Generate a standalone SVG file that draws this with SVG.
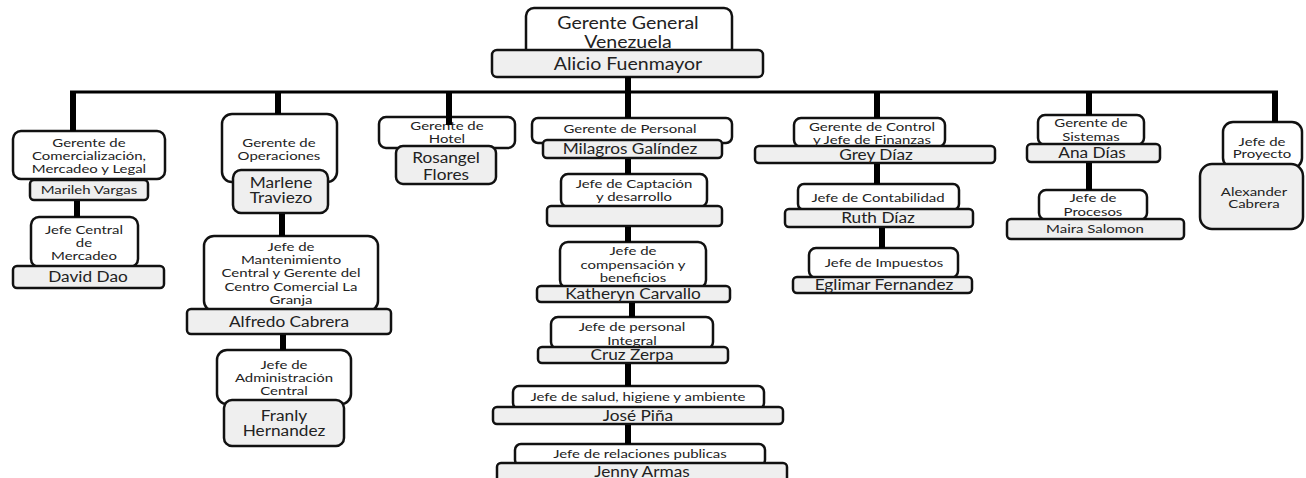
<svg xmlns="http://www.w3.org/2000/svg" width="1306" height="478" viewBox="0 0 1306 478">
<style>
.t{fill:#fff;stroke:#111;stroke-width:2.5}
.n{fill:#efefef;stroke:#111;stroke-width:2.5}
text{font-family:Lato,"Liberation Sans",sans-serif;fill:#222;text-anchor:middle;transform-box:fill-box;transform-origin:50% 50%}
.s{font-size:11.5px;transform:scaleX(1.3)}
.m{font-size:15px;transform:scaleX(1.15)}
.l{font-size:17px;transform:scaleX(1.15)}
.bus{stroke:#000;stroke-width:3;fill:none}
.drop{stroke:#000;stroke-width:6;fill:none}
</style>
<rect width="1306" height="478" fill="#fff"/>
<g id="gerente-general">
<rect class="t" x="526" y="8" width="206" height="50" rx="8"/>
<rect class="n" x="492" y="50" width="271" height="27" rx="5"/>
<text class="l" x="628" y="29">Gerente General</text>
<text class="l" x="628" y="48">Venezuela</text>
<text class="l" x="628" y="70">Alicio Fuenmayor</text>
</g>
<g id="comercializacion">
<rect class="t" x="13" y="131" width="152" height="48" rx="8"/>
<rect class="n" x="30" y="180" width="118" height="20" rx="4"/>
<text class="s" x="89" y="147">Gerente de</text>
<text class="s" x="89" y="160">Comercialización,</text>
<text class="s" x="89" y="173">Mercadeo y Legal</text>
<text class="s" x="89" y="194">Marileh Vargas</text>
</g>
<g id="jefe-mercadeo">
<rect class="t" x="31" y="217" width="107" height="50" rx="8"/>
<rect class="n" x="13" y="266" width="151" height="22" rx="4"/>
<text class="s" x="84" y="234">Jefe Central</text>
<text class="s" x="84" y="247">de</text>
<text class="s" x="84" y="260">Mercadeo</text>
<text class="m" x="88" y="282">David Dao</text>
</g>
<g id="operaciones">
<rect class="t" x="222" y="114" width="115" height="68" rx="10"/>
<rect class="n" x="233" y="170" width="95" height="43" rx="8"/>
<text class="s" x="279" y="147">Gerente de</text>
<text class="s" x="279" y="160">Operaciones</text>
<text class="m" x="281" y="188">Marlene</text>
<text class="m" x="281" y="203">Traviezo</text>
</g>
<g id="mantenimiento">
<rect class="t" x="204" y="236" width="174" height="75" rx="10"/>
<rect class="n" x="187" y="309" width="204" height="25" rx="4"/>
<text class="s" x="291" y="251">Jefe de</text>
<text class="s" x="291" y="264">Mantenimiento</text>
<text class="s" x="291" y="277">Central y Gerente del</text>
<text class="s" x="291" y="291">Centro Comercial La</text>
<text class="s" x="291" y="304">Granja</text>
<text class="m" x="289" y="327">Alfredo Cabrera</text>
</g>
<g id="administracion">
<rect class="t" x="217" y="350" width="134" height="54" rx="10"/>
<rect class="n" x="224" y="400" width="120" height="46" rx="8"/>
<text class="s" x="284" y="369">Jefe de</text>
<text class="s" x="284" y="382">Administración</text>
<text class="s" x="284" y="395">Central</text>
<text class="m" x="284" y="421">Franly</text>
<text class="m" x="284" y="436">Hernandez</text>
</g>
<g id="hotel">
<rect class="t" x="379" y="117" width="136" height="31" rx="7"/>
<rect class="n" x="396" y="146" width="100" height="38" rx="7"/>
<text class="s" x="447" y="130">Gerente de</text>
<text class="s" x="447" y="143">Hotel</text>
<text class="m" x="446" y="163">Rosangel</text>
<text class="m" x="446" y="180">Flores</text>
</g>
<g id="personal">
<rect class="t" x="532" y="118" width="200" height="25" rx="6"/>
<rect class="n" x="543" y="140" width="179" height="18" rx="4"/>
<text class="s" x="630" y="133">Gerente de Personal</text>
<text class="m" x="630" y="154">Milagros Galíndez</text>
</g>
<g id="captacion">
<rect class="t" x="561" y="174" width="146" height="33" rx="7"/>
<rect class="n" x="547" y="206" width="175" height="20" rx="4"/>
<text class="s" x="634" y="188">Jefe de Captación</text>
<text class="s" x="634" y="201">y desarrollo</text>
</g>
<g id="compensacion">
<rect class="t" x="560" y="242" width="146" height="46" rx="8"/>
<rect class="n" x="537" y="286" width="193" height="16" rx="4"/>
<text class="s" x="633" y="255">Jefe de</text>
<text class="s" x="633" y="269">compensación y</text>
<text class="s" x="633" y="282">beneficios</text>
<text class="m" x="633" y="299">Katheryn Carvallo</text>
</g>
<g id="integral">
<rect class="t" x="551" y="317" width="162" height="32" rx="7"/>
<rect class="n" x="538" y="347" width="190" height="16" rx="4"/>
<text class="s" x="632" y="331">Jefe de personal</text>
<text class="s" x="632" y="345">Integral</text>
<text class="m" x="632" y="360">Cruz Zerpa</text>
</g>
<g id="salud">
<rect class="t" x="513" y="386" width="251" height="23" rx="6"/>
<rect class="n" x="493" y="407" width="290" height="17" rx="4"/>
<text class="s" x="638" y="401">Jefe de salud, higiene y ambiente</text>
<text class="m" x="638" y="421">José Piña</text>
</g>
<g id="relaciones">
<rect class="t" x="515" y="444" width="250" height="22" rx="6"/>
<rect class="n" x="497" y="463" width="290" height="22" rx="4"/>
<text class="s" x="640" y="458">Jefe de relaciones publicas</text>
<text class="m" x="642" y="477">Jenny Armas</text>
</g>
<g id="control">
<rect class="t" x="794" y="118" width="151" height="29" rx="7"/>
<rect class="n" x="755" y="146" width="240" height="17" rx="4"/>
<text class="s" x="872" y="131">Gerente de Control</text>
<text class="s" x="872" y="144">y Jefe de Finanzas</text>
<text class="m" x="876" y="160">Grey Díaz</text>
</g>
<g id="contabilidad">
<rect class="t" x="798" y="184" width="161" height="26" rx="6"/>
<rect class="n" x="785" y="209" width="188" height="18" rx="4"/>
<text class="s" x="878" y="202">Jefe de Contabilidad</text>
<text class="m" x="878" y="223">Ruth Díaz</text>
</g>
<g id="impuestos">
<rect class="t" x="809" y="248" width="149" height="30" rx="7"/>
<rect class="n" x="793" y="277" width="179" height="16" rx="4"/>
<text class="s" x="884" y="267">Jefe de Impuestos</text>
<text class="m" x="884" y="290">Eglimar Fernandez</text>
</g>
<g id="sistemas">
<rect class="t" x="1038" y="115" width="106" height="30" rx="7"/>
<rect class="n" x="1027" y="144" width="133" height="18" rx="4"/>
<text class="s" x="1091" y="127">Gerente de</text>
<text class="s" x="1091" y="141">Sistemas</text>
<text class="m" x="1092" y="158">Ana Días</text>
</g>
<g id="procesos">
<rect class="t" x="1039" y="190" width="108" height="30" rx="7"/>
<rect class="n" x="1007" y="219" width="177" height="20" rx="4"/>
<text class="s" x="1093" y="202">Jefe de</text>
<text class="s" x="1093" y="216">Procesos</text>
<text class="s" x="1095" y="233">Maira Salomon</text>
</g>
<g id="proyecto">
<rect class="t" x="1223" y="122" width="79" height="46" rx="10"/>
<rect class="n" x="1200" y="164" width="103" height="65" rx="12"/>
<text class="s" x="1262" y="146">Jefe de</text>
<text class="s" x="1262" y="158">Proyecto</text>
<text class="s" x="1254" y="196">Alexander</text>
<text class="s" x="1254" y="208">Cabrera</text>
</g>
<g id="connectors">
<line class="bus" x1="70" y1="92" x2="1278" y2="92"/>
<line class="drop" x1="628" y1="77" x2="628" y2="118"/>
<line class="drop" x1="73" y1="91" x2="73" y2="131"/>
<line class="drop" x1="278" y1="91" x2="278" y2="114"/>
<line class="drop" x1="449" y1="91" x2="449" y2="125"/>
<line class="drop" x1="877" y1="91" x2="877" y2="118"/>
<line class="drop" x1="1089" y1="91" x2="1089" y2="115"/>
<line class="drop" x1="1275" y1="91" x2="1275" y2="122"/>
<line class="drop" x1="77" y1="201" x2="77" y2="217"/>
<line class="drop" x1="282" y1="214" x2="282" y2="236"/>
<line class="drop" x1="283" y1="335" x2="283" y2="350"/>
<line class="drop" x1="628" y1="159" x2="628" y2="174"/>
<line class="drop" x1="628" y1="227" x2="628" y2="242"/>
<line class="drop" x1="632" y1="303" x2="632" y2="317"/>
<line class="drop" x1="628" y1="364" x2="628" y2="386"/>
<line class="drop" x1="628" y1="425" x2="628" y2="444"/>
<line class="drop" x1="877" y1="164" x2="877" y2="184"/>
<line class="drop" x1="882" y1="228" x2="882" y2="248"/>
<line class="drop" x1="1089" y1="163" x2="1089" y2="190"/>
</g>
</svg>
